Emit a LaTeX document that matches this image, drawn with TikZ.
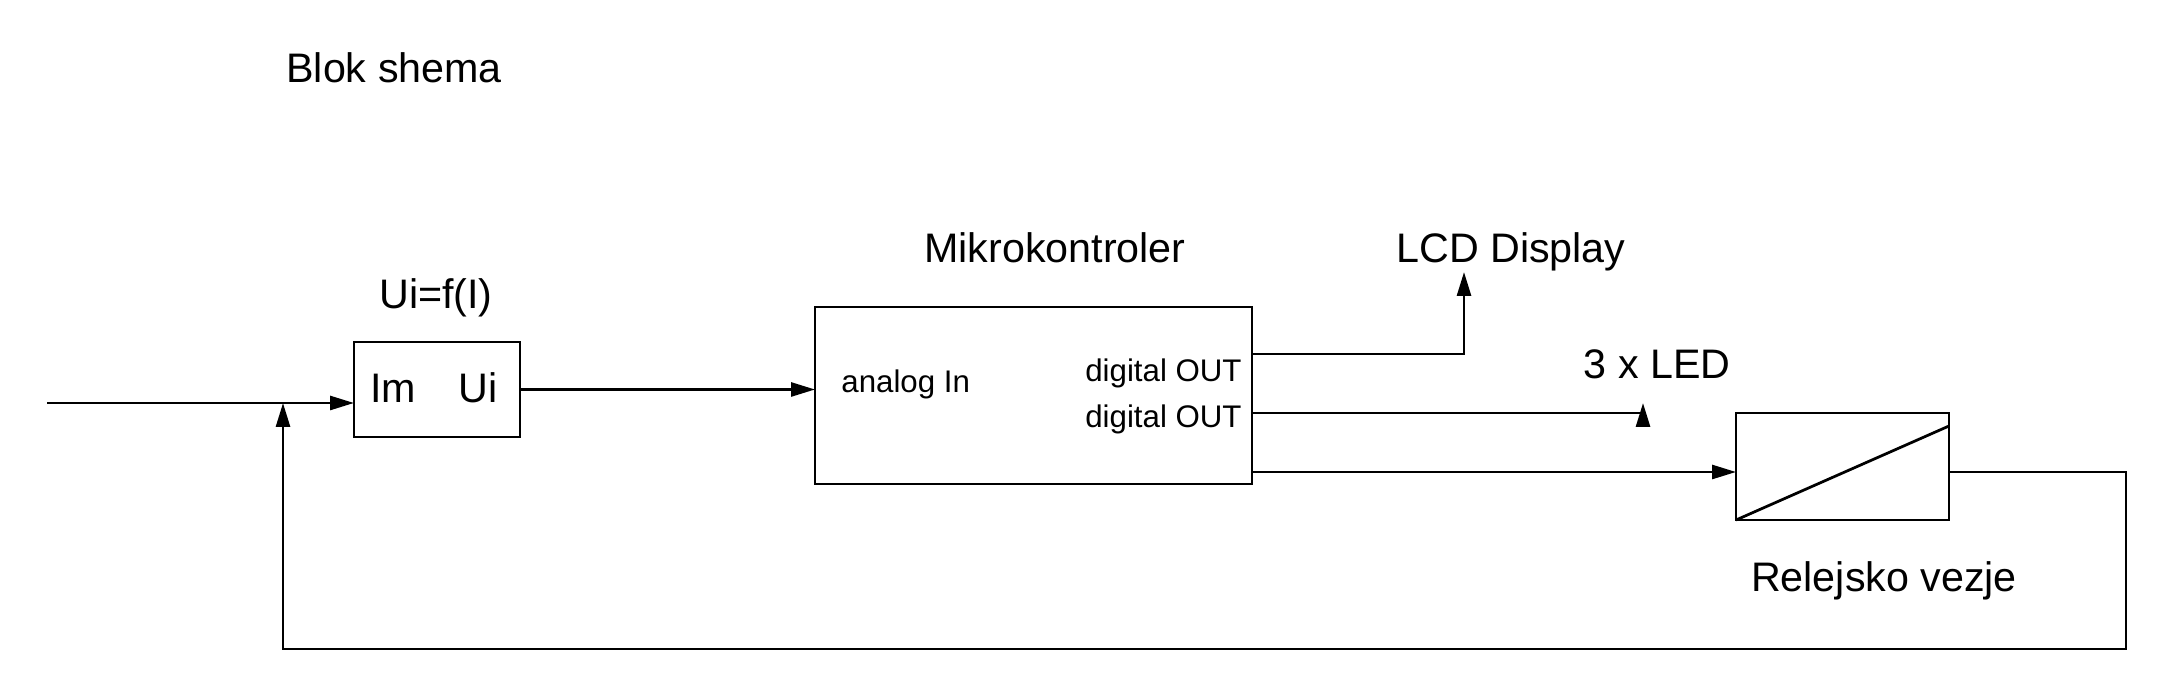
\documentclass[tikz,border=0pt]{standalone}
\usepackage{fontspec}
\setmainfont{Liberation Sans}
\usetikzlibrary{arrows.meta,positioning}

\begin{document}
\begin{tikzpicture}[x=0.4pt,y=-0.4pt,line width=1.1pt,
    >={Triangle[length=9.6pt,width=5.6pt]},
    blok/.style={draw, rectangle, inner sep=0pt, outer sep=0pt},
    napis/.style={inner sep=0pt, font=\fontsize{16.5}{18}\selectfont},
    malo/.style={inner sep=0pt, font=\fontsize{12.5}{14}\selectfont}]
  \useasboundingbox (0,0) rectangle (2173,697);

  \node[napis, anchor=base west] (naslov) at (285,83) {Blok shema};

  % Bloki
  \node[blok, minimum width=66.4pt, minimum height=38pt] (ui) at (437,389.5) {};
  \node[napis, anchor=base] (uilbl) at (436,309) {Ui=f(I)};
  \node[napis, anchor=base west] (im) at (369,403) {Im};
  \node[napis, anchor=base east] (uiout) at (499,403) {Ui};

  \node[blok, minimum width=174.8pt, minimum height=70.8pt] (mcu) at (1033.5,395.5) {};
  \node[napis, anchor=base] (mculbl) at (1055,263) {Mikrokontroler};
  \node[malo, anchor=base west] (ain) at (840,393) {analog In};
  \node[malo, anchor=base east] (dout1) at (1243,382) {digital OUT};
  \node[malo, anchor=base east] (dout2) at (1243,428) {digital OUT};

  \node[blok, minimum width=85.2pt, minimum height=42.8pt] (rel) at (1842.5,466.5) {};
  \draw (rel.south west) -- ([yshift=-5.2pt]rel.north east);
  \node[napis, anchor=base] (rellbl) at (1884,592) {Relejsko vezje};

  \node[napis, anchor=base] (lcd) at (1511,263) {LCD Display};
  \node[napis, anchor=base] (led) at (1657,379) {3 x LED};

  % Tocke
  \coordinate (ulaz) at (47,403);
  \coordinate (vozel) at (283,403);
  \coordinate (o1) at (1252,354);
  \coordinate (o2) at (1252,413);
  \coordinate (o3) at (1252,472);
  \coordinate (lcdin) at (1464,272);
  \coordinate (ledin) at (1643,403);
  \coordinate (fb) at (2126,649);

  % Povezave
  \draw[->] (ulaz) -- (ulaz -| ui.west);
  \draw[->] (ui.east) -- (mcu.west |- ui.east);
  \draw[->] (o1) -| (lcdin);
  \draw (o2) -- (o2 -| ledin);
  \draw[->] (ledin) ++(0,24) -- (ledin);
  \draw[->] (o3) -- (o3 -| rel.west);
  \draw[->] (o3 -| rel.east) -| (fb) -| (vozel);
\end{tikzpicture}
\end{document}
